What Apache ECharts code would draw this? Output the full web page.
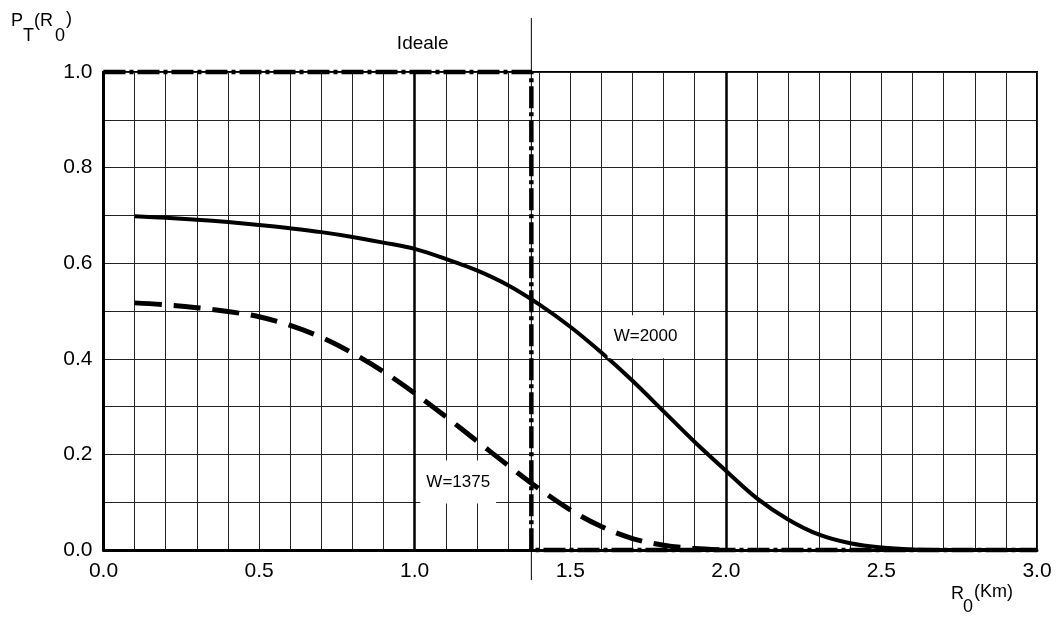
<!DOCTYPE html>
<html>
<head>
<meta charset="utf-8">
<script src="https://cdn.jsdelivr.net/npm/echarts@6/dist/echarts.min.js"></script>
<style>
  html, body { margin: 0; padding: 0; background: #fff; }
  #chart { width: 1062px; height: 617px; }
</style>
</head>
<body>
<div id="chart"></div>
<script>
// Range R0 (km) at which each curve is sampled
const rValues = [0.1, 0.2, 0.3, 0.4, 0.5, 0.6, 0.7, 0.8, 0.9, 1.0,
                 1.1, 1.2, 1.3, 1.4, 1.5, 1.6, 1.7, 1.8, 1.9, 2.0,
                 2.1, 2.2, 2.3, 2.4, 2.5, 2.6, 2.7, 2.8, 2.9, 3.0];

// P_T(R0) for W = 2000
const w2000 = [0.698, 0.695, 0.691, 0.686, 0.680, 0.673, 0.665, 0.655, 0.643, 0.630,
               0.609, 0.585, 0.554, 0.514, 0.467, 0.413, 0.354, 0.290, 0.226, 0.166,
               0.108, 0.064, 0.032, 0.014, 0.005, 0.001, 0.000, 0.000, 0.000, 0.000];

// P_T(R0) for W = 1375 (curve ends at 2.0 km)
const w1375 = [0.517, 0.513, 0.507, 0.499, 0.488, 0.470, 0.445, 0.412, 0.373, 0.328,
               0.279, 0.228, 0.177, 0.128, 0.084, 0.049, 0.024, 0.010, 0.003, 0.000,
               null, null, null, null, null, null, null, null, null, null];

// Ideal step response: 1 up to R0 = 1.375 km, then 0
const idealR = [0, 1.375, 1.375, 3.0];
const idealP = [1, 1, 0, 0];

// Thin reference line at the cut-off range, drawn past both plot edges
const cutoffR = 1.375;
const cutoffSpan = [-0.063, 1.113];

// Heavier grid lines
const majorGridR = [1.0, 2.0];

// Tick label steps
const xLabelStep = 0.5;
const yLabelStep = 0.2;

// Text annotations: [R0, P, text]
const notes = [
  [1.742, 0.446, 'W=2000'],
  [1.14, 0.142, 'W=1375'],
  [1.026, 1.06, 'Ideale']
];

const FONT = '"Liberation Sans", Arial, Helvetica, sans-serif';

function pairs(xs, ys) {
  return xs.map((x, i) => [x, ys[i]]);
}

function onStep(v, step) {
  const k = Math.round(v * 10);
  return k % Math.round(step * 10) === 0;
}

const chart = echarts.init(document.getElementById('chart'), null, { renderer: 'canvas' });

const option = {
  backgroundColor: '#fff',
  animation: false,
  textStyle: { fontFamily: FONT, color: '#000' },
  grid: {
    left: 103.5, right: 25, top: 72, bottom: 67,
    show: true, borderColor: '#000', borderWidth: 2, backgroundColor: 'transparent'
  },
  xAxis: {
    type: 'value', min: 0, max: 3, interval: 0.1,
    axisLine: { show: true, onZero: false, lineStyle: { color: '#000', width: 3 } },
    axisTick: { show: false },
    splitLine: { show: true, lineStyle: { color: '#222', width: 1 } },
    axisLabel: {
      color: '#000', fontFamily: FONT, fontSize: 21, margin: 11,
      formatter: v => onStep(v, xLabelStep) ? v.toFixed(1) : ''
    }
  },
  yAxis: {
    type: 'value', min: 0, max: 1, interval: 0.1,
    axisLine: { show: true, onZero: false, lineStyle: { color: '#000', width: 3 } },
    axisTick: { show: false },
    splitLine: { show: true, lineStyle: { color: '#222', width: 1 } },
    axisLabel: {
      color: '#000', fontFamily: FONT, fontSize: 21, margin: 11,
      formatter: v => onStep(v, yLabelStep) ? v.toFixed(1) : ''
    }
  },
  graphic: [
    { type: 'text', x: 11, y: 12, style: { text: 'P', font: '18px ' + FONT, fill: '#000' } },
    { type: 'text', x: 23, y: 27, style: { text: 'T', font: '18px ' + FONT, fill: '#000' } },
    { type: 'text', x: 34, y: 12, style: { text: '(R', font: '18px ' + FONT, fill: '#000' } },
    { type: 'text', x: 55, y: 27, style: { text: '0', font: '18px ' + FONT, fill: '#000' } },
    { type: 'text', x: 66, y: 10, style: { text: ')', font: '18px ' + FONT, fill: '#000' } },
    { type: 'text', x: 951, y: 585, style: { text: 'R', font: '18px ' + FONT, fill: '#000' } },
    { type: 'text', x: 963, y: 598, style: { text: '0', font: '18px ' + FONT, fill: '#000' } },
    { type: 'text', x: 974, y: 583, style: { text: '(Km)', font: '18px ' + FONT, fill: '#000' } }
  ],
  series: [
    {
      name: 'major grid',
      type: 'line',
      data: [],
      silent: true,
      markLine: {
        silent: true,
        symbol: 'none',
        label: { show: false },
        lineStyle: { color: '#000', width: 2.5, type: 'solid' },
        data: majorGridR.map(r => ({ xAxis: r }))
      }
    },
    {
      name: 'cutoff',
      type: 'line',
      clip: false,
      showSymbol: false,
      symbol: 'none',
      silent: true,
      lineStyle: { color: '#000', width: 1 },
      data: [
        {
          value: [cutoffR, cutoffSpan[0]],
          label: {
            show: true, position: 'bottom', distance: 6,
            formatter: String(cutoffR),
            color: '#000', fontFamily: FONT, fontSize: 21
          }
        },
        { value: [cutoffR, cutoffSpan[1]] }
      ],
      z: 3
    },
    {
      name: 'Ideale',
      type: 'line',
      clip: false,
      symbol: 'none',
      silent: true,
      lineStyle: { color: '#000', width: 4.5, type: [22, 4, 4, 4], cap: 'butt' },
      data: pairs(idealR, idealP),
      z: 4
    },
    {
      name: 'W=2000',
      type: 'line',
      symbol: 'none',
      smooth: 0.35,
      lineStyle: { color: '#000', width: 4 },
      data: pairs(rValues, w2000),
      z: 5
    },
    {
      name: 'W=1375',
      type: 'line',
      symbol: 'none',
      smooth: 0.35,
      connectNulls: false,
      lineStyle: { color: '#000', width: 5, type: [27, 12], cap: 'butt' },
      data: pairs(rValues, w1375),
      z: 5
    },
    {
      name: 'notes',
      type: 'scatter',
      clip: false,
      silent: true,
      symbolSize: 0,
      itemStyle: { opacity: 1 },
      data: notes.map(n => ({
        value: [n[0], n[1]],
        label: {
          show: true, position: 'inside',
          formatter: n[2],
          color: '#000', fontFamily: FONT,
          textBorderWidth: 0,
          fontSize: n[2] === 'Ideale' ? 19 : 17,
          backgroundColor: n[2] === 'Ideale' ? 'transparent' : '#fff',
          padding: n[2] === 'Ideale' ? 0 : [13, 6]
        }
      })),
      z: 6
    }
  ]
};

chart.setOption(option);
</script>
</body>
</html>
